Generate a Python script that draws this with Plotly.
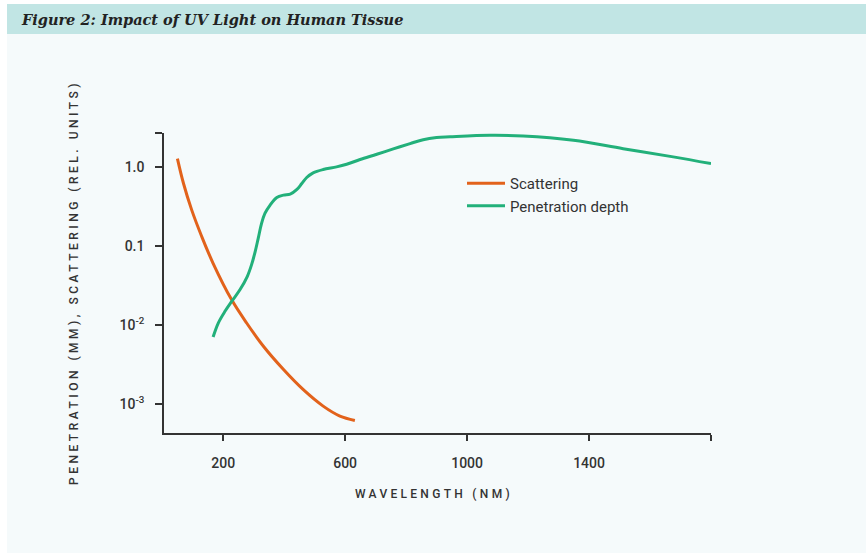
import plotly.graph_objects as go

# ---- data ----
scatter_wl = [50, 70, 97, 130, 167, 228, 277, 332, 398, 462, 528, 583, 632]
scatter_val = [1.275, 0.617, 0.284, 0.131, 0.0604, 0.0208, 0.0106, 0.00538,
               0.00273, 0.00153, 0.000942, 0.000705, 0.000621]

pen_wl = [167, 184, 206, 228, 255, 279, 293, 305, 315, 326, 337, 354, 376, 398,
          420, 442, 458, 474, 495, 528, 572, 605, 649, 704, 758, 813, 856, 900,
          944, 1075, 1184, 1349, 1512, 1676, 1800]
pen_val = [0.00705, 0.0106, 0.0149, 0.0199, 0.0279, 0.041, 0.0576, 0.0849, 0.125,
           0.193, 0.258, 0.329, 0.411, 0.44, 0.453, 0.519, 0.617, 0.734, 0.841,
           0.927, 1.0, 1.08, 1.24, 1.445, 1.69, 1.97, 2.21, 2.35, 2.4, 2.51, 2.46,
           2.17, 1.70, 1.34, 1.10]

x_tickvals = [200, 600, 1000, 1400]
x_ticktext = ["200", "600", "1000", "1400"]
x_end_tick = [1800]
y_tickvals = [0.001, 0.01, 0.1, 1.0]
y_ticktext = ["10<sup>-3</sup>", "10<sup>-2</sup>", "0.1", "1.0"]
y_end_tick = [10 ** 0.429]

title_text = "Figure 2: Impact of UV Light on Human Tissue"
x_title = "WAVELENGTH (NM)"
y_title = "PENETRATION (MM), SCATTERING (REL. UNITS)"

ORANGE = "#e2621b"
GREEN = "#22b07a"
INK = "#333333"

W, H = 866, 556
L, R, T, B = 164, 155, 133, 123
PW, PH = W - L - R, H - T - B


def px(xp):
    return (xp - L) / PW


def py(yp):
    return (H - B - yp) / PH


fig = go.Figure()
fig.add_trace(go.Scatter(x=scatter_wl, y=scatter_val, mode="lines", name="Scattering",
                         line=dict(color=ORANGE, width=3, shape="spline")))
fig.add_trace(go.Scatter(x=pen_wl, y=pen_val, mode="lines", name="Penetration depth",
                         line=dict(color=GREEN, width=3, shape="spline")))

tickfont = dict(family="Roboto", size=14, color=INK, weight=500)

fig.update_layout(
    width=W, height=H,
    margin=dict(l=L, r=R, t=T, b=B),
    paper_bgcolor="white",
    plot_bgcolor="rgba(0,0,0,0)",
    showlegend=True,
    legend=dict(x=px(462), y=py(167), xanchor="left", yanchor="top",
                bgcolor="rgba(0,0,0,0)", font=dict(family="Roboto", size=15, color=INK),
                itemwidth=38, tracegroupgap=0),
    xaxis=dict(range=[6, 1800], tickvals=x_tickvals, ticktext=x_ticktext,
               ticks="outside", ticklen=6, tickwidth=1.5, tickcolor=INK,
               minor=dict(tickvals=x_end_tick, ticks="outside", ticklen=6,
                          tickwidth=1.5, tickcolor=INK),
               showline=True, linecolor=INK, linewidth=1.5, showgrid=False,
               zeroline=False, tickfont=tickfont, ticklabelstandoff=10),
    yaxis=dict(type="log", range=[-3.366, 0.429], tickvals=y_tickvals, ticktext=y_ticktext,
               ticks="outside", ticklen=7, tickwidth=1.5, tickcolor=INK,
               minor=dict(tickvals=y_end_tick, ticks="outside", ticklen=7,
                          tickwidth=1.5, tickcolor=INK),
               showline=True, linecolor=INK, linewidth=1.5, showgrid=False,
               zeroline=False, tickfont=tickfont, ticklabelstandoff=8),
    shapes=[
        dict(type="rect", xref="paper", yref="paper", x0=px(7), x1=px(866),
             y0=py(553), y1=py(34), fillcolor="#f5fafb", line=dict(width=0), layer="below"),
        dict(type="rect", xref="paper", yref="paper", x0=px(7), x1=px(866),
             y0=py(34), y1=py(4), fillcolor="#c1e5e4", line=dict(width=0), layer="below"),
    ],
    annotations=[
        dict(text=title_text, xref="paper", yref="paper", x=px(19), y=py(19),
             xanchor="left", yanchor="middle", showarrow=False,
             font=dict(family="DejaVu Serif", size=14.5, color="#222222",
                       weight="bold", style="italic")),
        dict(text='<span style="letter-spacing:3.3px">' + x_title + '</span>',
             xref="paper", yref="paper", x=px(434), y=py(494),
             xanchor="center", yanchor="middle", showarrow=False,
             font=dict(family="Roboto", size=12, color=INK, weight=500)),
        dict(text='<span style="letter-spacing:3.5px">' + y_title + '</span>',
             xref="paper", yref="paper", x=px(74), y=py(283), textangle=-90,
             xanchor="center", yanchor="middle", showarrow=False,
             font=dict(family="Roboto", size=12, color=INK, weight=500)),
    ],
)

fig.write_html("out.html", config={"displayModeBar": False},
               post_script="document.body.style.margin='0';")
